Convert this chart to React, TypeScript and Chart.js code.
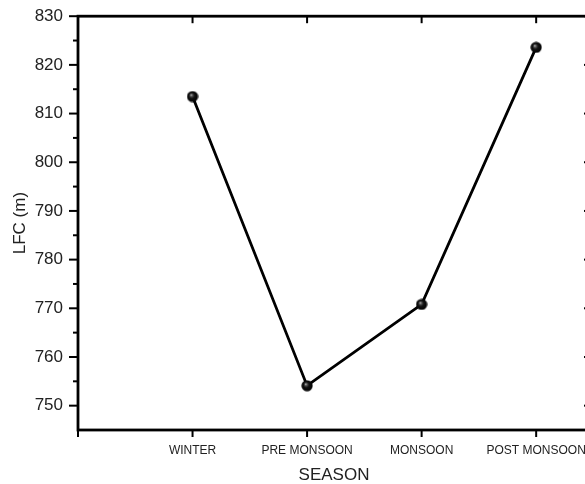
import React, { useEffect, useRef } from "react";
import { Chart, registerables } from "chart.js";

Chart.register(...registerables);

const seasons = ["WINTER", "PRE MONSOON", "MONSOON", "POST MONSOON"];
const lfcValues = [813.5, 754.1, 770.8, 823.6];
const yMajorTicks = [750, 760, 770, 780, 790, 800, 810, 820, 830];
const yMinorTicks = [755, 765, 775, 785, 795, 805, 815, 825];
const xTickPositions = [0, 1, 2, 3, 4];

const FONT = "'Liberation Sans', Arial, sans-serif";

function makeSphere(): HTMLCanvasElement {
  const c = document.createElement("canvas");
  const s = 12;
  c.width = s;
  c.height = s;
  const g = c.getContext("2d")!;
  const grad = g.createRadialGradient(4.6, 4.3, 0.2, 6, 6, 6);
  grad.addColorStop(0, "#bdbdbd");
  grad.addColorStop(0.18, "#555555");
  grad.addColorStop(0.45, "#111111");
  grad.addColorStop(1, "#000000");
  g.fillStyle = grad;
  g.beginPath();
  g.arc(6, 6, 5.6, 0, Math.PI * 2);
  g.fill();
  return c;
}

const framePlugin = {
  id: "frame",
  beforeDatasetsDraw(chart: any) {
    const { ctx, chartArea, scales } = chart;
    const { left, right, top, bottom } = chartArea;
    const x = scales.x;
    const y = scales.y;
    const line = (x1: number, y1: number, x2: number, y2: number) => {
      ctx.beginPath();
      ctx.moveTo(x1, y1);
      ctx.lineTo(x2, y2);
      ctx.stroke();
    };
    ctx.save();
    ctx.strokeStyle = "#000";
    ctx.lineCap = "square";
    ctx.lineWidth = 2.8;
    ctx.strokeRect(left, top, right - left, bottom - top);
    ctx.lineCap = "butt";
    ctx.lineWidth = 2;
    yMajorTicks.forEach((v) => {
      const py = y.getPixelForValue(v);
      line(left - 9, py, left, py);
      line(right, py, right - 6, py);
    });
    yMinorTicks.forEach((v) => {
      const py = y.getPixelForValue(v);
      line(left - 5, py, left, py);
    });
    xTickPositions.forEach((v) => {
      const px = x.getPixelForValue(v);
      line(px, bottom, px, bottom + 7);
      if (v > 0) line(px, top, px, top + 7);
    });
    ctx.restore();
  },
};

export default function App() {
  const ref = useRef<HTMLCanvasElement>(null);
  useEffect(() => {
    const sphere = makeSphere();
    const chart = new Chart(ref.current!, {
      type: "line",
      data: {
        datasets: [
          {
            data: lfcValues.map((v, i) => ({ x: i + 1, y: v })),
            borderColor: "#000",
            borderWidth: 2.8,
            pointStyle: sphere as any,
            pointRadius: 6,
            tension: 0,
          },
        ],
      },
      options: {
        animation: false,
        responsive: false,
        layout: { padding: { top: 16, right: 20, left: 0, bottom: 0 } },
        plugins: { legend: { display: false }, tooltip: { enabled: false } },
        scales: {
          x: {
            type: "linear",
            min: 0,
            max: 4.47,
            afterBuildTicks: (s: any) => {
              s.ticks = xTickPositions.map((v) => ({ value: v }));
            },
            afterFit: (s: any) => {
              s.height = 54;
            },
            grid: { display: true, drawOnChartArea: false, drawTicks: true, tickLength: 7, color: "rgba(0,0,0,0)" },
            border: { display: false },
            ticks: {
              autoSkip: false,
              maxRotation: 0,
              padding: 6,
              color: "#222",
              font: { family: FONT, size: 12 },
              callback: (v: any) => seasons[Number(v) - 1] ?? "",
            },
            title: {
              display: true,
              text: "SEASON",
              color: "#222",
              font: { family: FONT, size: 17 },
              padding: { top: -2, bottom: -2 },
            },
          },
          y: {
            min: 745,
            max: 830,
            afterBuildTicks: (s: any) => {
              s.ticks = yMajorTicks.map((v) => ({ value: v }));
            },
            afterFit: (s: any) => {
              s.width = 78;
            },
            grid: { display: true, drawOnChartArea: false, drawTicks: true, tickLength: 9, color: "rgba(0,0,0,0)" },
            border: { display: false },
            ticks: {
              padding: 6,
              color: "#222",
              font: { family: FONT, size: 17 },
            },
            title: {
              display: true,
              text: "LFC (m)",
              color: "#222",
              font: { family: FONT, size: 17 },
              padding: { top: 10, bottom: 0 },
            },
          },
        },
      },
      plugins: [framePlugin],
    });
    return () => chart.destroy();
  }, []);
  return (
    <div
      style={{
        position: "fixed",
        left: 0,
        top: 0,
        width: 585,
        height: 484,
        overflow: "hidden",
        background: "#fff",
      }}
    >
      <canvas ref={ref} width={610} height={484} style={{ width: 610, height: 484, display: "block" }} />
    </div>
  );
}
